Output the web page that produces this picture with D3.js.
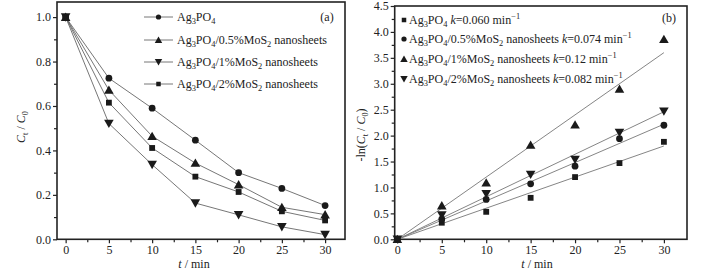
<!DOCTYPE html>
<html>
<meta charset="utf-8">
<head>
  <title>Ag3PO4 / MoS2 degradation</title>
</head>
<style>
body { margin: 0; background: #fff; }
svg { display: block; }
text {
  font-family: "Liberation Serif", "Times New Roman", Times, serif;
  fill: #222;
}
.frame { fill: none; stroke: #222; stroke-width: 1.6px; }
.tick line { stroke: #222; stroke-width: 1.2px; }
.series { fill: none; stroke: #666; stroke-width: 0.9px; }
.fit { fill: none; stroke: #777; stroke-width: 0.9px; }
.mark { fill: #1a1a1a; }
</style>
<body>
<script src="https://cdnjs.cloudflare.com/ajax/libs/d3/7.8.5/d3.min.js"></script>
<script>

// ---- data ----
var times = [0, 5, 10, 15, 20, 25, 30];

// (a) C_t / C_0
var ratioPure = [1.0, 0.725, 0.590, 0.446, 0.300, 0.229, 0.152];
var ratio05   = [1.0, 0.672, 0.464, 0.343, 0.246, 0.144, 0.111];
var ratio1    = [1.0, 0.521, 0.336, 0.163, 0.110, 0.056, 0.021];
var ratio2    = [1.0, 0.615, 0.411, 0.282, 0.213, 0.126, 0.085];

// (b) -ln(C_t / C_0)
var lnPure = [0, 0.32, 0.53, 0.80, 1.20, 1.47, 1.88];
var ln05   = [0, 0.39, 0.77, 1.07, 1.41, 1.94, 2.20];
var ln1    = [0, 0.65, 1.09, 1.82, 2.21, 2.90, 3.86];
var ln2    = [0, 0.47, 0.88, 1.25, 1.54, 2.06, 2.47];

// rate constants (min^-1)
var kValues = [0.060, 0.074, 0.12, 0.082];

var legendA = [
  "Ag_3PO_4",
  "Ag_3PO_4/0.5%MoS_2 nanosheets",
  "Ag_3PO_4/1%MoS_2 nanosheets",
  "Ag_3PO_4/2%MoS_2 nanosheets"
];
var legendB = [
  "Ag_3PO_4 *k*=0.060 min^{−1}",
  "Ag_3PO_4/0.5%MoS_2 nanosheets *k*=0.074 min^{−1}",
  "Ag_3PO_4/1%MoS_2 nanosheets *k*=0.12 min^{−1}",
  "Ag_3PO_4/2%MoS_2 nanosheets *k*=0.082 min^{−1}"
];

var xTicks = [0, 5, 10, 15, 20, 25, 30];
var yTicksA = [0, 0.2, 0.4, 0.6, 0.8, 1.0];
var yTicksB = [0, 0.5, 1.0, 1.5, 2.0, 2.5, 3.0, 3.5, 4.0, 4.5];

var width = 708, height = 278, fs = 12;

var svg = d3.select("body").append("svg")
    .attr("width", width)
    .attr("height", height);

// tiny markup: _x subscript, ^{..} superscript, *..* italic
function rich(sel, str, size) {
  var i = 0, italic = false, pend = 0;
  function put(txt, small, shift) {
    var t = sel.append("tspan").text(txt);
    if (small) t.attr("font-size", size * 0.7);
    if (italic) t.attr("font-style", "italic");
    var dy = pend + shift;
    if (dy) t.attr("dy", dy);
    pend = -shift;
  }
  while (i < str.length) {
    var c = str[i];
    if (c === "*") { italic = !italic; i++; continue; }
    if (c === "_") { put(str[i + 1], true, 3); i += 2; continue; }
    if (c === "^") {
      var end = str.indexOf("}", i);
      put(str.slice(i + 2, end), true, -5);
      i = end + 1; continue;
    }
    var j = i;
    while (j < str.length && "*_^".indexOf(str[j]) < 0) j++;
    put(str.slice(i, j), false, 0);
    i = j;
  }
}

function marker(g, kind, x, y, scale) {
  var sc = scale || 1;
  var p = g.append("path").attr("class", "mark");
  var type = kind === "circle" ? d3.symbolCircle : kind === "square" ? d3.symbolSquare : d3.symbolTriangle;
  var size = (kind === "up" || kind === "down" ? 40 : kind === "square" ? 34 : 36) * sc;
  p.attr("d", d3.symbol().type(type).size(size)());
  var rot = kind === "down" ? " rotate(180)" : "";
  var dy = (kind === "up" ? 1 : kind === "down" ? -1 : 0) * Math.sqrt(sc);
  p.attr("transform", "translate(" + x + "," + (y + dy) + ")" + rot);
}

function drawAxes(x, y, yTicks, yMinor, fmt) {
  var g = svg.append("g");
  var x0 = x.range()[0], x1 = x.range()[1], y0 = y.range()[0], y1 = y.range()[1];

  var xa = g.append("g").attr("transform", "translate(0," + y0 + ")")
    .call(d3.axisBottom(x).tickValues(xTicks).tickSize(4).tickPadding(2).tickFormat(d3.format("d")));
  xa.select(".domain").remove();
  xa.selectAll("text").attr("font-size", fs).attr("fill", "#222");
  xa.attr("font-family", null);
  var xm = g.append("g").attr("transform", "translate(0," + y0 + ")")
    .call(d3.axisBottom(x).tickValues(d3.range(2.5, 32.5, 5).filter(function(d){ return d < x.domain()[1]; })).tickSize(3).tickFormat(""));
  xm.select(".domain").remove();
  xm.selectAll("text").remove();

  var ya = g.append("g").attr("transform", "translate(" + x0 + ",0)")
    .call(d3.axisLeft(y).tickValues(yTicks).tickSize(4).tickPadding(2).tickFormat(fmt));
  ya.select(".domain").remove();
  ya.selectAll("text").attr("font-size", fs).attr("fill", "#222");
  ya.attr("font-family", null);
  var ym = g.append("g").attr("transform", "translate(" + x0 + ",0)")
    .call(d3.axisLeft(y).tickValues(yMinor).tickSize(3).tickFormat(""));
  ym.select(".domain").remove();
  ym.selectAll("text").remove();

  g.append("rect").attr("class", "frame")
    .attr("x", x0).attr("y", y1).attr("width", x1 - x0).attr("height", y0 - y1);
}

// ---------- panel (a) ----------
var xA = d3.scaleLinear().domain([-1, 32.3]).range([57, 345]);
var yA = d3.scaleLinear().domain([0, 1.068]).range([239.3, 2]);

drawAxes(xA, yA, yTicksA, d3.range(0.1, 1.0, 0.2), d3.format(".1f"));

var seriesA = [
  { vals: ratioPure, kind: "circle" },
  { vals: ratio05, kind: "up" },
  { vals: ratio1, kind: "down" },
  { vals: ratio2, kind: "square" }
];
var lineA = d3.line().x(function(d, i) { return xA(times[i]); }).y(function(d) { return yA(d); });
var gA = svg.append("g");
seriesA.forEach(function(s) {
  gA.append("path").attr("class", "series").attr("d", lineA(s.vals));
});
seriesA.forEach(function(s) {
  s.vals.forEach(function(v, i) { marker(gA, s.kind, xA(times[i]), yA(v)); });
});

var legA = svg.append("g");
var legAy = [17, 40, 62, 84];
seriesA.forEach(function(s, i) {
  legA.append("line").attr("class", "series")
    .attr("x1", 144).attr("x2", 173).attr("y1", legAy[i]).attr("y2", legAy[i]);
  marker(legA, s.kind, 158.5, legAy[i], 0.6);
  var t = legA.append("text").attr("x", 177).attr("y", legAy[i] + 4).attr("font-size", fs);
  rich(t, legendA[i], fs);
});
svg.append("text").attr("x", 327).attr("y", 21).attr("font-size", fs)
  .attr("text-anchor", "middle").text("(a)");

var labA = svg.append("text").attr("font-size", fs).attr("text-anchor", "middle")
  .attr("transform", "translate(25,127) rotate(-90)");
rich(labA, "*C*_t / *C*_0", fs);

var tA = svg.append("text").attr("x", 194).attr("y", 268).attr("font-size", fs).attr("text-anchor", "middle");
rich(tA, "*t* / min", fs);

// ---------- panel (b) ----------
var xB = d3.scaleLinear().domain([-0.3, 32.6]).range([394.7, 687]);
var yB = d3.scaleLinear().domain([0, 4.5]).range([239.3, 6]);

drawAxes(xB, yB, yTicksB, d3.range(0.25, 4.5, 0.5), d3.format(".1f"));

var seriesB = [
  { vals: lnPure, kind: "square", k: kValues[0] },
  { vals: ln05, kind: "circle", k: kValues[1] },
  { vals: ln1, kind: "up", k: kValues[2] },
  { vals: ln2, kind: "down", k: kValues[3] }
];
var gB = svg.append("g");
seriesB.forEach(function(s) {
  gB.append("line").attr("class", "fit")
    .attr("x1", xB(0)).attr("y1", yB(0))
    .attr("x2", xB(30)).attr("y2", yB(s.k * 30));
});
seriesB.forEach(function(s) {
  s.vals.forEach(function(v, i) { marker(gB, s.kind, xB(times[i]), yB(v)); });
});

var legB = svg.append("g");
var legBy = [20, 39, 59, 79];
seriesB.forEach(function(s, i) {
  marker(legB, s.kind, 404, legBy[i], 0.6);
  var t = legB.append("text").attr("x", 409).attr("y", legBy[i] + 4).attr("font-size", fs);
  rich(t, legendB[i], fs);
});
svg.append("text").attr("x", 669).attr("y", 22).attr("font-size", fs)
  .attr("text-anchor", "middle").text("(b)");

var labB = svg.append("text").attr("font-size", fs).attr("text-anchor", "middle")
  .attr("transform", "translate(365,135) rotate(-90)");
rich(labB, "-ln(*C*_t / *C*_0)", fs);

var tB = svg.append("text").attr("x", 537).attr("y", 268).attr("font-size", fs).attr("text-anchor", "middle");
rich(tB, "*t* / min", fs);

</script>
</body>
</html>
